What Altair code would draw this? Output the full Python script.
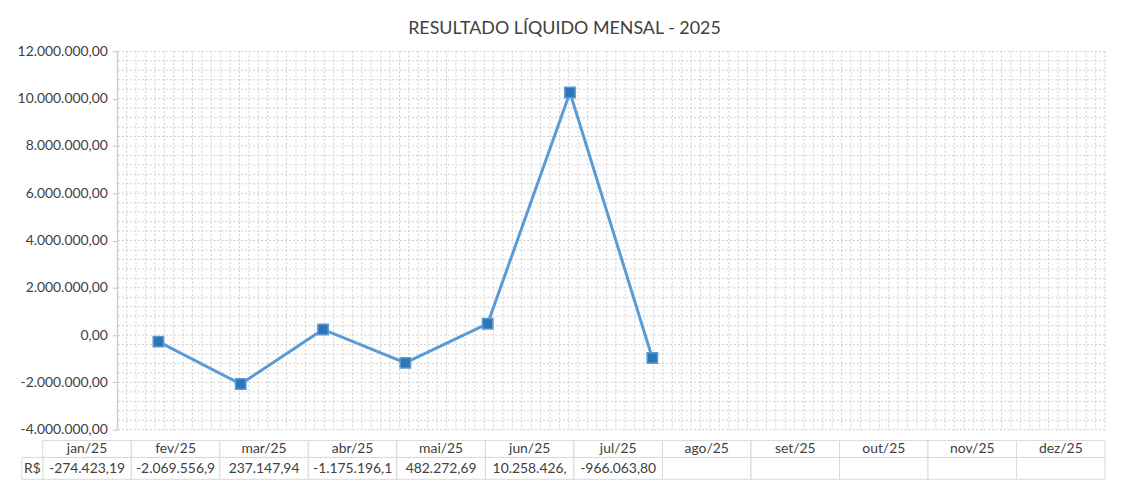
import altair as alt
import pandas as pd
import numpy as np

months = ["jan/25", "fev/25", "mar/25", "abr/25", "mai/25", "jun/25",
          "jul/25", "ago/25", "set/25", "out/25", "nov/25", "dez/25"]
values = [-274423.19, -2069556.9, 237147.94, -1175196.1, 482272.69, 10258426.0, -966063.80]
table_text = ["-274.423,19", "-2.069.556,9", "237.147,94", "-1.175.196,1", "482.272,69",
              "10.258.426,", "-966.063,80", "", "", "", "", ""]
y_ticks = [-4000000, -2000000, 0, 2000000, 4000000, 6000000, 8000000, 10000000, 12000000]
title_text = "RESULTADO LÍQUIDO MENSAL - 2025"
row_label = "R$"

W, H = 995, 381
FONT = "Lato"
TXT = "#404040"
GRID = "#cfcfcf"
BORDER = "#d9d9d9"

line_df = pd.DataFrame({"mes": months[:len(values)], "valor": values})
table_df = pd.DataFrame({"mes": months, "texto": table_text})
hgrid = pd.DataFrame({"valor": np.arange(-4000000, 12000001, 400000)})
vgrid = pd.DataFrame({"g": np.arange(0, 106)})
label_df = pd.DataFrame({"t": [row_label]})

yscale = alt.Scale(domain=[-4000000, 12000000], nice=False, zero=False)
yaxis = alt.Axis(values=y_ticks, format=",.2f", grid=False, title=None,
                 domainColor="#bfbfbf", tickColor="#bfbfbf", tickSize=5,
                 labelFont=FONT, labelFontSize=14, labelColor=TXT, labelPadding=5)
yax = alt.Y("valor:Q", scale=yscale, axis=yaxis)

grid_h = alt.Chart(hgrid).mark_rule(color=GRID, strokeDash=[2, 2], strokeWidth=1).encode(y=yax)
grid_v = alt.Chart(vgrid).mark_rule(color=GRID, strokeDash=[2, 2], strokeWidth=1).encode(
    x=alt.X("g:Q", scale=alt.Scale(domain=[0, 105], nice=False, zero=False), axis=None)
)

xpt = alt.X("mes:N", sort=months,
            scale=alt.Scale(domain=months, type="point", padding=0.5), axis=None)

line = alt.Chart(line_df).mark_line(color="#5b9bd5", strokeWidth=3).encode(x=xpt, y=yax)
pts = alt.Chart(line_df).mark_point(shape="square", filled=True, size=110, color="#2e75b6",
                                    stroke="#5b9bd5", strokeWidth=1.5, opacity=1).encode(x=xpt, y=yax)

xband = alt.X("mes:N", sort=months,
              scale=alt.Scale(domain=months, type="band", range=[-75, W],
                              paddingInner=0, paddingOuter=0), axis=None)

hdr_rect = alt.Chart(table_df).mark_rect(fill="white", stroke=BORDER, strokeWidth=1).encode(
    x=xband, y=alt.value(392), y2=alt.value(409))
val_rect = alt.Chart(table_df).mark_rect(fill="white", stroke=BORDER, strokeWidth=1).encode(
    x=xband, y=alt.value(409), y2=alt.value(431))
hdr_txt = alt.Chart(table_df).mark_text(font=FONT, fontSize=14, color=TXT).encode(
    x=xband, y=alt.value(400.5), text="mes:N")
val_txt = alt.Chart(table_df).mark_text(font=FONT, fontSize=14, color=TXT).encode(
    x=xband, y=alt.value(420.5), text="texto:N")
lab_rect = alt.Chart(label_df).mark_rect(fill="white", stroke=BORDER, strokeWidth=1).encode(
    x=alt.value(-96), x2=alt.value(-75), y=alt.value(409), y2=alt.value(431))
lab_txt = alt.Chart(label_df).mark_text(font=FONT, fontSize=14, color=TXT).encode(
    x=alt.value(-85.5), y=alt.value(420.5), text="t:N")

chart = alt.layer(
    grid_h, grid_v, line, pts, hdr_rect, val_rect, hdr_txt, val_txt, lab_rect, lab_txt
).resolve_scale(x="independent").properties(
    width=W, height=H,
    autosize=alt.AutoSizeParams(type="none"),
    padding={"left": 110, "top": 42, "right": 10, "bottom": 50},
    title=alt.TitleParams(title_text, font=FONT, fontSize=18, fontWeight="normal",
                          color=TXT, anchor="middle", dx=-47, offset=7),
).configure_view(stroke=None)

chart.save("out.html", embed_options={
    "renderer": "svg", "actions": False,
    "formatLocale": {"decimal": ",", "thousands": ".", "grouping": [3],
                     "currency": ["R$", ""], "minus": "-"}
})
